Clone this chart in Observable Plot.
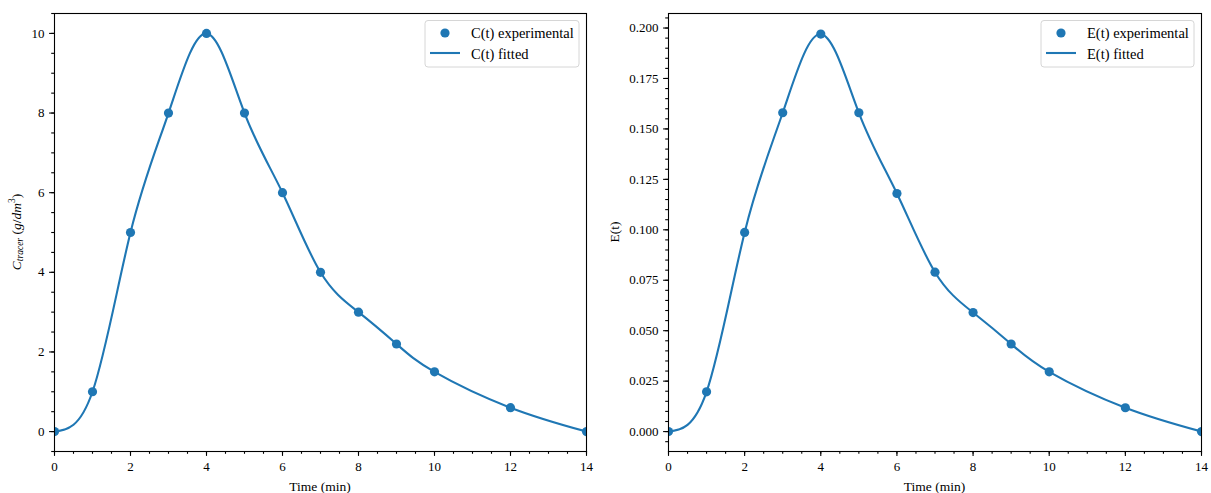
<!DOCTYPE html>
<html>
<head>
<meta charset="utf-8">
<script src="https://cdn.jsdelivr.net/npm/d3@7"></script>
<script src="https://cdn.jsdelivr.net/npm/@observablehq/plot@0.6"></script>
<style>
  html, body { margin: 0; padding: 0; background: white; }
  #wrap { display: flex; width: 1211px; height: 493px; }
  svg text { font-family: "Liberation Serif", serif; }
</style>
</head>
<body>
<div id="wrap"></div>
<script>
const times = [0, 1, 2, 3, 4, 5, 6, 7, 8, 9, 10, 12, 14];
const cValues = [0, 1, 5, 8, 10, 8, 6, 4, 3, 2.2, 1.5, 0.6, 0];
const eValues = [0, 0.0197, 0.0987, 0.158, 0.197, 0.158, 0.118, 0.079, 0.059, 0.0434, 0.0296, 0.0118, 0];
const xMajor = [0, 2, 4, 6, 8, 10, 12, 14];
const xMinor = d3.range(0, 14.001, 0.5);
const cMajor = [0, 2, 4, 6, 8, 10];
const cMinor = d3.range(-0.5, 10.501, 0.5);
const eMajor = [0, 0.025, 0.05, 0.075, 0.1, 0.125, 0.15, 0.175, 0.2];
const eMinor = d3.range(-0.005, 0.2071, 0.005).map(v => +v.toFixed(4));
const legendC = ["C(t) experimental", "C(t) fitted"];
const legendE = ["E(t) experimental", "E(t) fitted"];
const blue = "#1f77b4";
const FONT = "Liberation Serif";

function panel({values, yDomain, yMajor, yMinor, yFormat, marginLeft, marginRight, width, legend, legendW, ylabel}) {
  const data = times.map((t, i) => ({t, v: values[i]}));
  const chart = Plot.plot({
    width, height: 493,
    marginLeft, marginRight, marginTop: 13, marginBottom: 42,
    style: {fontFamily: FONT, fontSize: "13px", color: "black", background: "white", overflow: "visible"},
    x: {domain: [0, 14]},
    y: {domain: yDomain},
    marks: [
      Plot.axisX({ticks: xMinor, tickSize: 2.8, tickFormat: () => "", label: null, strokeWidth: 1.1}),
      Plot.axisX({ticks: xMajor, tickSize: 4.9, tickPadding: 5, label: null, strokeWidth: 1.1, fontSize: 13}),
      Plot.axisY({ticks: yMinor, tickSize: 2.8, tickFormat: () => "", label: null, strokeWidth: 1.1}),
      Plot.axisY({ticks: yMajor, tickSize: 4.9, tickPadding: 5, tickFormat: yFormat, label: null, strokeWidth: 1.1, fontSize: 13}),
      Plot.line(data, {x: "t", y: "v", curve: "natural", stroke: blue, strokeWidth: 2.1, clip: true}),
      Plot.dot(data, {x: "t", y: "v", r: 4.6, fill: blue, stroke: "none", clip: true}),
      Plot.frame({stroke: "black", strokeWidth: 1.1})
    ]
  });
  const svg = d3.select(chart);
  const left = marginLeft, right = width - marginRight, top = 13, bottom = 451;
  // x label
  svg.append("text").attr("x", (left + right) / 2).attr("y", 491)
    .attr("text-anchor", "middle").attr("font-size", 13.5).attr("fill", "black").text("Time (min)");
  // y label
  const yl = svg.append("text").attr("transform", `translate(${ylabel.x},${(top + bottom) / 2}) rotate(-90)`)
    .attr("text-anchor", "middle").attr("dominant-baseline", "middle").attr("font-size", 13.5).attr("fill", "black");
  ylabel.build(yl);
  // legend
  const lx = right - 7 - legendW, ly = top + 7.5;
  const g = svg.append("g").attr("text-anchor", "start");
  g.append("rect").attr("x", lx).attr("y", ly).attr("width", legendW).attr("height", 46.5)
    .attr("rx", 3).attr("fill", "white").attr("fill-opacity", 0.8).attr("stroke", "#d6d6d6").attr("stroke-width", 1);
  g.append("circle").attr("cx", lx + 20).attr("cy", ly + 12.5).attr("r", 4.6).attr("fill", blue);
  g.append("line").attr("x1", lx + 5).attr("x2", lx + 35).attr("y1", ly + 32.5).attr("y2", ly + 32.5)
    .attr("stroke", blue).attr("stroke-width", 2.1);
  g.append("text").attr("x", lx + 46).attr("y", ly + 17.5).attr("text-anchor", "start").attr("font-size", 14.5).attr("fill", "black").text(legend[0]);
  g.append("text").attr("x", lx + 46).attr("y", ly + 38).attr("text-anchor", "start").attr("font-size", 14.5).attr("fill", "black").text(legend[1]);
  return chart;
}

const wrap = document.getElementById("wrap");
wrap.append(panel({
  values: cValues, yDomain: [-0.5, 10.5], yMajor: cMajor, yMinor: cMinor, yFormat: d3.format("d"),
  marginLeft: 54, marginRight: 19, width: 605, legend: legendC, legendW: 154,
  ylabel: {x: 18, build: t => {
    t.append("tspan").attr("font-style", "italic").text("C");
    t.append("tspan").attr("font-style", "italic").attr("font-size", 9.5).attr("dy", 3).text("tracer");
    t.append("tspan").attr("dy", -3).text(" (");
    t.append("tspan").attr("font-style", "italic").text("g");
    t.append("tspan").text("/");
    t.append("tspan").attr("font-style", "italic").text("dm");
    t.append("tspan").attr("font-size", 9.5).attr("dy", -5).text("3");
    t.append("tspan").attr("dy", 5).text(")");
  }}
}));
wrap.append(panel({
  values: eValues, yDomain: [-0.00987, 0.2072], yMajor: eMajor, yMinor: eMinor, yFormat: d3.format(".3f"),
  marginLeft: 63, marginRight: 10, width: 606, legend: legendE, legendW: 153,
  ylabel: {x: 11, build: t => { t.text("E(t)"); }}
}));
</script>
</body>
</html>
